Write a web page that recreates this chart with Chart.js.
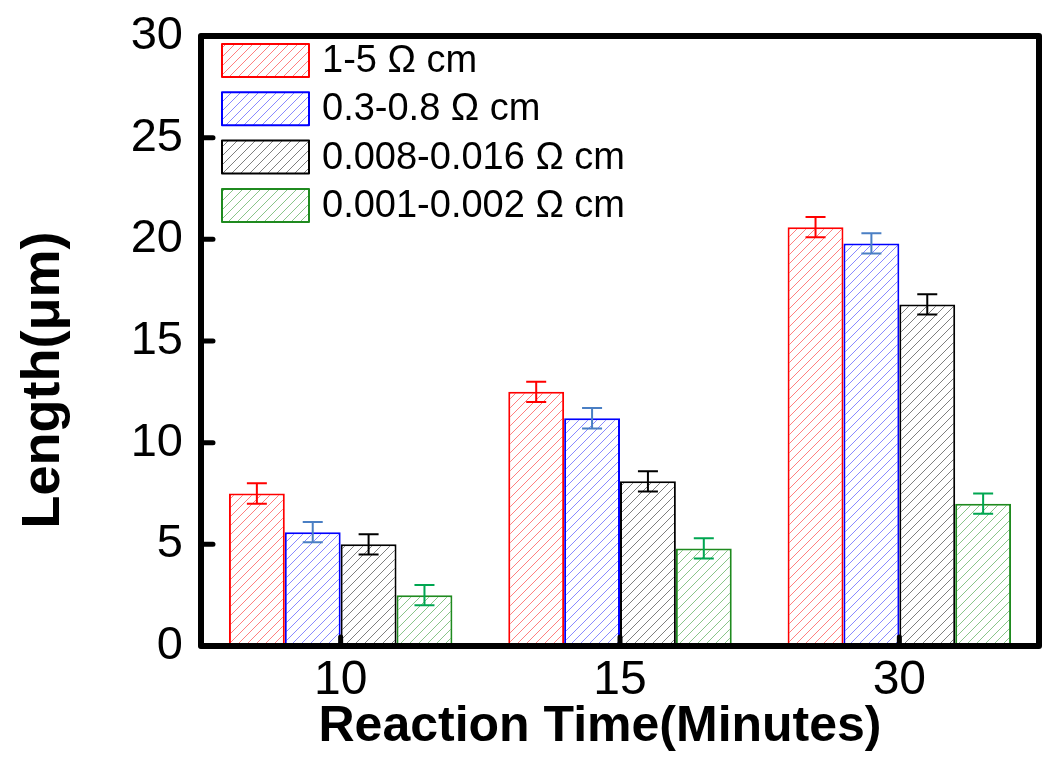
<!DOCTYPE html>
<html>
<head>
<meta charset="utf-8">
<script src="https://cdn.jsdelivr.net/npm/chart.js"></script>
<style>
html, body { margin: 0; padding: 0; background: #fff; }
</style>
</head>
<body>
<canvas id="chart" width="1050" height="768"></canvas>
<script>
// data
var categories = ["10", "15", "30"];
var seriesNames = ["1-5 \u03A9 cm", "0.3-0.8 \u03A9 cm", "0.008-0.016 \u03A9 cm", "0.001-0.002 \u03A9 cm"];
var redValues = [7.5, 12.5, 20.6];
var blueValues = [5.6, 11.2, 19.8];
var blackValues = [5.0, 8.1, 16.8];
var greenValues = [2.5, 4.8, 7.0];
var redErrors = [0.5, 0.5, 0.5];
var blueErrors = [0.5, 0.5, 0.5];
var blackErrors = [0.5, 0.5, 0.5];
var greenErrors = [0.5, 0.5, 0.5];
var yTicks = [0, 5, 10, 15, 20, 25, 30];
var xTitle = "Reaction Time(Minutes)";
var yTitle = "Length(\u03BCm)";

var FONT = "Arial, 'Liberation Sans', sans-serif";

// diagonal hatch fill
function hatch(color) {
	var size = 9;
	var c = document.createElement("canvas");
	c.width = size;
	c.height = size;
	var g = c.getContext("2d");
	g.fillStyle = "#fff";
	g.fillRect(0, 0, size, size);
	g.strokeStyle = color;
	g.lineWidth = 1;
	g.beginPath();
	g.moveTo(0, size);
	g.lineTo(size, 0);
	g.moveTo(-2, 2);
	g.lineTo(2, -2);
	g.moveTo(size - 2, size + 2);
	g.lineTo(size + 2, size - 2);
	g.stroke();
	return g.createPattern(c, "repeat");
}

var styles = [
	{ border: "#ff0000", hatch: "rgba(255,0,0,0.5)", err: "#ff0000" },
	{ border: "#0000ff", hatch: "rgba(40,40,255,0.55)", err: "#4a7fc4" },
	{ border: "#000000", hatch: "rgba(0,0,0,0.5)", err: "#000000" },
	{ border: "#1f8a1f", hatch: "rgba(20,140,20,0.5)", err: "#00a651" },
];
var values = [redValues, blueValues, blackValues, greenValues];
var errors = [redErrors, blueErrors, blackErrors, greenErrors];

var datasets = seriesNames.map(function (name, i) {
	return {
		label: name,
		data: values[i],
		errors: errors[i],
		errColor: styles[i].err,
		backgroundColor: hatch(styles[i].hatch),
		borderColor: styles[i].border,
		borderWidth: 2,
		borderSkipped: "bottom",
		categoryPercentage: 0.8,
		barPercentage: 1.0,
	};
});

// error bars, frame, inward ticks, axis titles and the inset legend
var decorPlugin = {
	id: "decor",
	afterDatasetsDraw: function (chart) {
		var ctx = chart.ctx;
		var y = chart.scales.y;
		chart.data.datasets.forEach(function (ds, i) {
			var meta = chart.getDatasetMeta(i);
			ctx.save();
			ctx.strokeStyle = ds.errColor;
			ctx.lineWidth = 2;
			meta.data.forEach(function (bar, j) {
				var v = ds.data[j];
				var e = ds.errors[j];
				var yTop = y.getPixelForValue(v + e);
				var yBot = y.getPixelForValue(v - e);
				var x = bar.x;
				ctx.beginPath();
				ctx.moveTo(x, yTop);
				ctx.lineTo(x, yBot);
				ctx.moveTo(x - 10, yTop);
				ctx.lineTo(x + 10, yTop);
				ctx.moveTo(x - 10, yBot);
				ctx.lineTo(x + 10, yBot);
				ctx.stroke();
			});
			ctx.restore();
		});
	},
	afterDraw: function (chart) {
		var ctx = chart.ctx;
		var a = chart.chartArea;
		var x = chart.scales.x;
		var y = chart.scales.y;
		ctx.save();
		ctx.strokeStyle = "#000";
		ctx.lineWidth = 6;
		ctx.lineJoin = "round";
		ctx.strokeRect(a.left, a.top, a.right - a.left, a.bottom - a.top);
		ctx.lineWidth = 5;
		ctx.lineCap = "round";
		ctx.beginPath();
		yTicks.forEach(function (t) {
			var py = y.getPixelForValue(t);
			ctx.moveTo(a.left, py);
			ctx.lineTo(a.left + 12, py);
		});
		ctx.stroke();
		ctx.beginPath();
		categories.forEach(function (c, i) {
			var px = x.getPixelForValue(i);
			ctx.moveTo(px, a.bottom);
			ctx.lineTo(px, a.bottom - 9);
		});
		ctx.stroke();

		// axis titles (placed as in the original, not centred on the axes)
		ctx.fillStyle = "#000";
		ctx.font = "bold 50px " + FONT;
		ctx.textAlign = "center";
		ctx.textBaseline = "alphabetic";
		ctx.fillText(xTitle, 600, 741);
		ctx.save();
		ctx.translate(44, 380);
		ctx.rotate(-Math.PI / 2);
		ctx.font = "bold 54px " + FONT;
		ctx.textBaseline = "middle";
		ctx.fillText(yTitle, 0, 0);
		ctx.restore();

		// legend
		var lx = a.left + 21;
		var ly = a.top + 8;
		var bw = 87, bh = 33, gap = 48.3;
		ctx.font = "38px " + FONT;
		ctx.textBaseline = "middle";
		ctx.textAlign = "left";
		chart.data.datasets.forEach(function (ds, i) {
			var by = ly + i * gap;
			ctx.fillStyle = ds.backgroundColor;
			ctx.fillRect(lx, by, bw, bh);
			ctx.lineWidth = 2;
			ctx.strokeStyle = ds.borderColor;
			ctx.strokeRect(lx, by, bw, bh);
			ctx.fillStyle = "#000";
			ctx.fillText(ds.label, lx + bw + 13, by + bh / 2 + 1);
		});
		ctx.restore();
	},
};

new Chart(document.getElementById("chart").getContext("2d"), {
	type: "bar",
	data: { labels: categories, datasets: datasets },
	options: {
		responsive: false,
		animation: false,
		devicePixelRatio: 1,
		layout: { padding: { left: 0, right: 11, top: 36, bottom: 0 } },
		plugins: { legend: { display: false }, tooltip: { enabled: false } },
		scales: {
			x: {
				afterFit: function (scale) {
					scale.height = 122;
					scale.paddingLeft = 0;
					scale.paddingRight = 0;
				},
				grid: { display: false, drawTicks: false },
				border: { display: false },
				ticks: { color: "#000", font: { family: FONT, size: 48 }, padding: 6 },
			},
			y: {
				min: 0,
				max: 30,
				afterFit: function (scale) {
					scale.width = 201;
					scale.paddingTop = 0;
					scale.paddingBottom = 0;
				},
				afterBuildTicks: function (scale) {
					scale.ticks = yTicks.map(function (v) { return { value: v }; });
				},
				grid: { display: false, drawTicks: false },
				border: { display: false },
				ticks: { color: "#000", font: { family: FONT, size: 47 }, padding: 18 },
			},
		},
	},
	plugins: [decorPlugin],
});
</script>
</body>
</html>
